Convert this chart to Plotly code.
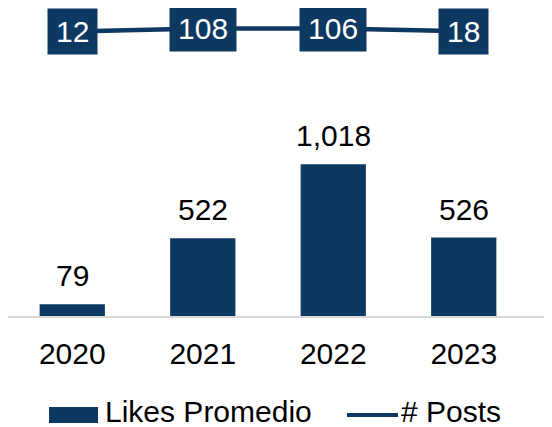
import plotly.graph_objects as go

years = ["2020", "2021", "2022", "2023"]
likes_promedio = [79, 522, 1018, 526]
posts = [12, 108, 106, 18]

NAVY = "#0D3862"
FONT = "Liberation Sans, Arial, sans-serif"

# page body has an 8px margin: content coordinates below are in screen pixels
OFF = 8
L_PX, R_PX, BASE_PX = 7, 552, 316
W = (R_PX - OFF)              # plot width in figure px (left margin 0)
H = BASE_PX - OFF             # plot height in figure px (top margin 0)

fig = go.Figure()
fig.add_trace(go.Bar(
    x=years, y=likes_promedio, name="Likes Promedio",
    marker=dict(color=NAVY, line=dict(width=0)),
    showlegend=False, cliponaxis=False,
))
fig.add_trace(go.Scatter(
    x=years, y=posts, name="# Posts", yaxis="y2", mode="lines",
    line=dict(color=NAVY, width=4.5), showlegend=False, cliponaxis=False,
))

# bar value labels
for i, v in enumerate(likes_promedio):
    fig.add_annotation(
        x=i, y=v, xref="x", yref="y", text=f"{v:,}", showarrow=False,
        font=dict(size=30, color="#000000", family=FONT),
        xanchor="center", yanchor="bottom", yshift=10,
    )

# line value labels in boxes
for i, v in enumerate(posts):
    s = str(v)
    fig.add_annotation(
        x=i, y=v, xref="x", yref="y2", text=s, showarrow=False,
        font=dict(size=30, color="white", family=FONT),
        bgcolor=NAVY, borderpad=6, width=len(s) * 16.7 + 4,
        xanchor="center", yanchor="middle",
    )

# custom legend (screen px -> paper)
def px(x): return (x - OFF) / W
def py(y): return (BASE_PX - y) / H

fig.add_shape(type="rect", xref="paper", yref="paper",
              x0=px(49), x1=px(98), y0=py(423), y1=py(407),
              fillcolor=NAVY, line=dict(width=0))
fig.add_shape(type="line", xref="paper", yref="paper",
              x0=px(347), x1=px(398), y0=py(415), y1=py(415),
              line=dict(color=NAVY, width=4))
fig.add_annotation(xref="paper", yref="paper", x=px(103), y=py(411),
                   text="Likes Promedio", showarrow=False, xanchor="left", yanchor="middle",
                   font=dict(size=30, color="#000000", family=FONT))
fig.add_annotation(xref="paper", yref="paper", x=px(399), y=py(411),
                   text="# Posts", showarrow=False, xanchor="left", yanchor="middle",
                   font=dict(size=30, color="#000000", family=FONT))

# category axis: centre spacing 130.5 px, first centre at screen x 72
sp = 130.5
x_lo = -0.5 + (OFF - 7) / sp
x_hi = x_lo + W / sp
# bar axis: 6.71 units per px
y_hi = H * 6.71
# line axis: 32 units per px, value 12 at screen y 31.5
k = 32.0
y2_lo = 12 - (BASE_PX - 31.5) * k
y2_hi = y2_lo + H * k

fig.update_layout(
    width=552, height=427,
    margin=dict(l=0, r=552 - W, t=0, b=427 - H),
    paper_bgcolor="white", plot_bgcolor="white",
    bargap=0.5,
    xaxis=dict(type="category", range=[x_lo, x_hi], showline=True, linecolor="#D9D9D9",
               linewidth=2, ticks="", showgrid=False, zeroline=False,
               ticklabelstandoff=10,
               tickfont=dict(size=30, color="#000000", family=FONT)),
    yaxis=dict(range=[0, y_hi], visible=False, showgrid=False, zeroline=False),
    yaxis2=dict(range=[y2_lo, y2_hi], overlaying="y", visible=False, showgrid=False, zeroline=False),
    font=dict(family=FONT),
)

fig.write_html("out.html")
